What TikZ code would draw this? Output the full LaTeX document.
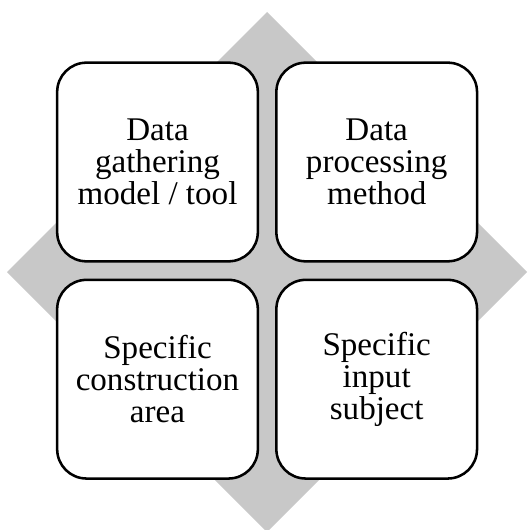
\documentclass[tikz,border=0pt]{standalone}
\usepackage{fontspec}
\setmainfont{Liberation Serif}
\usetikzlibrary{positioning}
\definecolor{diamondgray}{RGB}{200,200,200}

\begin{document}
\begin{tikzpicture}[x=0.75pt, y=-0.75pt, node distance=12pt,
   box/.style={draw, line width=1.9pt, rounded corners=22pt, fill=white,
     minimum width=150.5pt, minimum height=149pt, inner sep=0pt,
     align=center, font=\fontsize{24.8}{23.8}\selectfont}]
   \useasboundingbox (0,0) rectangle (528,530);
   % gray diamond behind the boxes
   \fill[diamondgray] (267,12) -- (527,272) -- (267,532) -- (7,272) -- cycle;

   \node[box] (gather) at (157.5,162) {Data\\gathering\\model / tool};
   \node[box, right=of gather] (process) {Data\\processing\\method};
   \node[box, below=of gather] (area) {Specific\\construction\\area};
   \node[box, below=of process] (subject) {Specific\\input\\subject};
\end{tikzpicture}
\end{document}
